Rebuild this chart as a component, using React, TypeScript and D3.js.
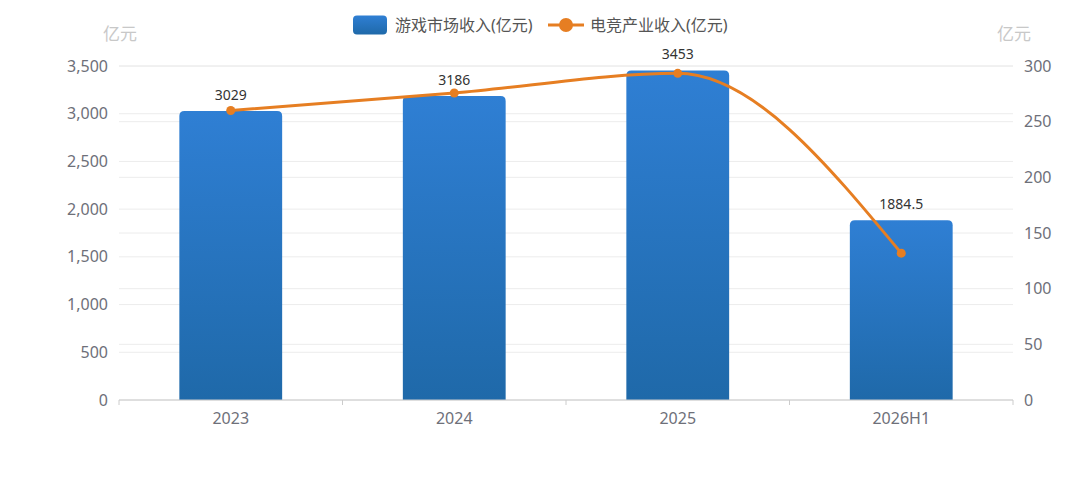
import React from 'react';
import * as d3 from 'd3';

const categories = ['2023', '2024', '2025', '2026H1'];
const gameRevenue = [3029, 3186, 3453, 1884.5];
const esportsRevenue = [260, 275.7, 293.4, 131.9];
const leftTicks = [0, 500, 1000, 1500, 2000, 2500, 3000, 3500];
const rightTicks = [0, 50, 100, 150, 200, 250, 300];
const barName = '游戏市场收入(亿元)';
const lineName = '电竞产业收入(亿元)';
const unitLabel = '亿元';

const W = 1080;
const H = 487;
const grid = { left: 119, right: 1013, top: 66, bottom: 400 };
const font = '"Noto Sans", "Noto Sans CJK SC", sans-serif';
const orange = '#e67e22';

const App = () => {
    const x = d3.scaleBand().domain(categories).range([grid.left, grid.right]);
    const yLeft = d3.scaleLinear().domain([0, 3500]).range([grid.bottom, grid.top]);
    const yRight = d3.scaleLinear().domain([0, 300]).range([grid.bottom, grid.top]);

    const barW = x.bandwidth() * 0.46;
    const cx = (c: string) => x(c)! + x.bandwidth() / 2;

    // rounded top corners only
    const barPath = (x0: number, y0: number, w: number, h: number, r: number) => {
        const rr = Math.min(r, h / 2);
        return `M${x0},${y0 + h}V${y0 + rr}Q${x0},${y0} ${x0 + rr},${y0}H${x0 + w - rr}Q${x0 + w},${y0} ${x0 + w},${y0 + rr}V${y0 + h}Z`;
    };

    const line = d3
        .line<number>()
        .x((_, i) => cx(categories[i]))
        .y((d) => yRight(d))
        .curve(d3.curveMonotoneX);

    const boundaries = [...categories.map((c) => x(c)!), grid.right];

    return (
        <svg width={W} height={H} style={{ display: 'block', margin: '-8px', fontFamily: font }}>
            <defs>
                <linearGradient id="barGrad" x1="0" y1="0" x2="0" y2="1">
                    <stop offset="0%" stopColor="#2f7fd4" />
                    <stop offset="100%" stopColor="#1f69a9" />
                </linearGradient>
            </defs>
            <rect width={W} height={H} fill="#fff" />

            {/* grid lines, both axes */}
            {leftTicks.map((t) => (
                <line key={'gl' + t} x1={grid.left} x2={grid.right} y1={yLeft(t)} y2={yLeft(t)} stroke="#ececec" />
            ))}
            {rightTicks.map((t) => (
                <line key={'gr' + t} x1={grid.left} x2={grid.right} y1={yRight(t)} y2={yRight(t)} stroke="#ececec" />
            ))}

            {/* axis labels */}
            {leftTicks.map((t) => (
                <text key={'tl' + t} x={108} y={yLeft(t)} dy="0.35em" textAnchor="end" fontSize={16} fill="#6e7079">
                    {d3.format(',')(t)}
                </text>
            ))}
            {rightTicks.map((t) => (
                <text key={'tr' + t} x={1024} y={yRight(t)} dy="0.35em" textAnchor="start" fontSize={16} fill="#6e7079">
                    {t}
                </text>
            ))}
            <text x={grid.left + 1} y={34} dy="0.35em" textAnchor="middle" fontSize={17} fill="#c8c8c8">{unitLabel}</text>
            <text x={grid.right + 1} y={34} dy="0.35em" textAnchor="middle" fontSize={17} fill="#c8c8c8">{unitLabel}</text>

            {/* bars */}
            {gameRevenue.map((v, i) => {
                const c = categories[i];
                const y0 = yLeft(v);
                return (
                    <g key={'b' + c}>
                        <path d={barPath(cx(c) - barW / 2, y0, barW, grid.bottom - y0, 5)} fill="url(#barGrad)" />
                        <text x={cx(c)} y={y0 - 16} dy="0.35em" textAnchor="middle" fontSize={14} fill="#333">
                            {v}
                        </text>
                    </g>
                );
            })}

            {/* x axis */}
            <line x1={grid.left} x2={grid.right} y1={grid.bottom} y2={grid.bottom} stroke="#ccc" />
            {boundaries.map((b, i) => (
                <line key={'xt' + i} x1={b} x2={b} y1={grid.bottom} y2={grid.bottom + 5} stroke="#ccc" />
            ))}
            {categories.map((c) => (
                <text key={'xl' + c} x={cx(c)} y={418} dy="0.35em" textAnchor="middle" fontSize={16} fill="#6e7079">
                    {c}
                </text>
            ))}

            {/* line series */}
            <path d={line(esportsRevenue)!} fill="none" stroke={orange} strokeWidth={3} />
            {esportsRevenue.map((v, i) => (
                <circle key={'p' + i} cx={cx(categories[i])} cy={yRight(v)} r={4.5} fill={orange} />
            ))}

            {/* legend */}
            <rect x={353} y={15.5} width={34} height={19} rx={4} fill="url(#barGrad)" />
            <text x={395} y={25} dy="0.35em" fontSize={16} fill="#555">{barName}</text>
            <line x1={548} x2={584} y1={25} y2={25} stroke={orange} strokeWidth={3} />
            <circle cx={566} cy={25} r={7} fill={orange} />
            <text x={590} y={25} dy="0.35em" fontSize={16} fill="#555">{lineName}</text>
        </svg>
    );
};

export default App;
